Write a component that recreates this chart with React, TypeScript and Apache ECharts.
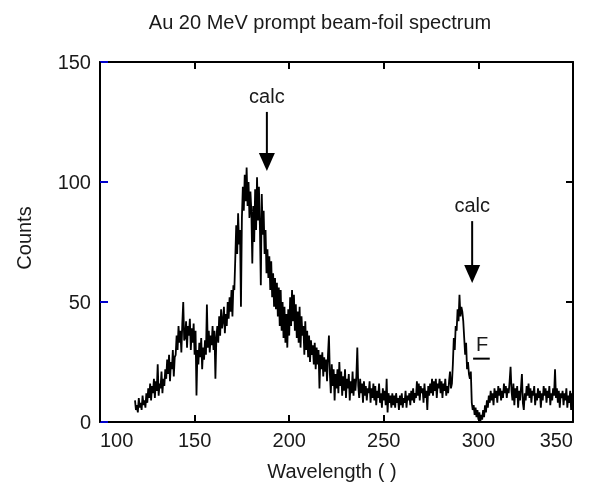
import React, { useEffect, useRef } from "react";
import * as echarts from "echarts";

// Wavelength sampling of the spectrum
const START_WAVELENGTH = 118.5;
const STEP = 0.5;

// Counts, in blocks of wavelength (20 samples per 10 units)
const seg118 = [9, 5, 7, 4, 10, 6, 8, 5, 11, 7, 9, 6, 12];
const seg125 = [8, 14, 10, 16, 9, 15, 12, 18, 10, 17, 13, 24, 11, 16, 14, 21, 12, 18, 15, 22];
const seg135 = [18, 26, 20, 28, 17, 25, 22, 30, 19, 27, 28, 36, 30, 40, 33, 38, 29, 41, 50, 34];
const seg145 = [35, 42, 31, 40, 36, 43, 30, 39, 33, 41, 28, 38, 11, 30, 24, 33, 27, 35, 22, 31];
const seg155 = [26, 34, 28, 49, 31, 38, 29, 36, 32, 40, 30, 38, 18, 35, 40, 33, 44, 36, 47, 39];
const seg165 = [42, 48, 37, 45, 40, 50, 43, 52, 46, 55, 44, 57, 55, 68, 82, 70, 87, 74, 80, 48];
const seg175 = [85, 98, 88, 103, 92, 106, 90, 100, 85, 96, 88, 66, 90, 75, 97, 80, 102, 84, 98, 82];
const seg185 = [57, 95, 78, 88, 70, 80, 62, 72, 60, 69, 55, 67, 52, 62, 48, 60, 47, 58, 44, 56];
const seg195 = [40, 55, 38, 50, 35, 48, 33, 45, 31, 47, 36, 52, 40, 55, 42, 53, 38, 49, 35, 46];
const seg205 = [33, 48, 31, 44, 36, 40, 28, 42, 30, 38, 27, 36, 25, 34, 28, 32, 24, 33, 22, 31];
const seg215 = [24, 30, 14, 28, 22, 29, 19, 27, 21, 26, 17, 28, 36, 20, 12, 24, 15, 22, 9, 20];
const seg225 = [14, 22, 12, 25, 15, 21, 11, 19, 13, 22, 10, 18, 14, 20, 9, 17, 12, 21, 11, 18];
const seg235 = [13, 19, 31, 15, 10, 18, 12, 16, 8, 17, 11, 15, 9, 14, 12, 17, 8, 14, 10, 16];
const seg245 = [9, 15, 7, 13, 10, 16, 8, 12, 6, 14, 9, 13, 7, 18, 4, 12, 8, 11, 6, 12];
const seg255 = [7, 11, 6, 12, 8, 10, 5, 11, 7, 12, 6, 10, 8, 13, 6, 11, 9, 12, 7, 13];
const seg265 = [9, 14, 8, 12, 10, 17, 11, 16, 9, 15, 12, 14, 8, 16, 10, 13, 5, 15, 11, 16];
const seg275 = [12, 18, 11, 17, 13, 18, 10, 16, 14, 18, 12, 17, 10, 16, 13, 18, 11, 15, 12, 17];
const seg285 = [21, 14, 16, 24, 35, 30, 40, 38, 47, 42, 53, 44, 48, 46, 42, 35, 28, 33, 22, 25];
const seg295 = [20, 18, 21, 8, 5, 7, 3, 6, 2, 5, 1, 4, 0, 3, 1, 5, 2, 7, 4, 9];
const seg305 = [6, 11, 8, 13, 9, 12, 7, 14, 10, 13, 8, 15, 11, 14, 9, 13, 10, 16, 12, 15];
const seg315 = [10, 14, 12, 17, 23, 13, 9, 16, 7, 14, 10, 15, 6, 13, 9, 14, 20, 8, 5, 12];
const seg325 = [9, 15, 11, 16, 10, 14, 8, 13, 11, 15, 7, 12, 9, 14, 10, 13, 6, 12, 9, 15];
const seg335 = [11, 14, 8, 13, 10, 15, 7, 12, 9, 14, 11, 22, 10, 14, 8, 13, 6, 12, 10, 13];
const seg345 = [7, 12, 9, 14, 6, 11, 8, 13, 5, 12, 9];

// Axis ticks
const xTicks = { min: 100, max: 350, interval: 50 };
const yTicks = { min: 0, max: 150, interval: 50 };

// Annotations (data coordinates)
const calcArrows = [
  { x: 188.2, label: "calc", textY: 135.9, top: 129.2, tip: 104.6 },
  { x: 296.7, label: "calc", textY: 90.3, top: 83.7, tip: 57.9 },
];
const fMark = { label: "F", x: 302.0, y: 32.4, lineX0: 297.2, lineX1: 306.0, lineY: 26.4 };

const TITLE = "Au 20 MeV prompt beam-foil spectrum";
const X_NAME = "Wavelength ( )";
const Y_NAME = "Counts";

const counts = [
  seg118, seg125, seg135, seg145, seg155, seg165, seg175, seg185, seg195, seg205,
  seg215, seg225, seg235, seg245, seg255, seg265, seg275, seg285, seg295, seg305,
  seg315, seg325, seg335, seg345,
].flat();

const FONT = '"Liberation Sans", Arial, sans-serif';
const TEXT_COLOR = "#1a1a1a";
const FS = 20;

export default function App() {
  const ref = useRef<HTMLDivElement>(null);
  useEffect(() => {
    const chart = echarts.init(ref.current!, null, { renderer: "svg" });
    const data = counts.map((c, i) => [START_WAVELENGTH + i * STEP, c]);
    const axisLine = { show: true, onZero: false, lineStyle: { color: "#000", width: 2 } };
    chart.setOption({
      animation: false,
      grid: { left: 100, right: 18, top: 62, bottom: 72 },
      xAxis: [
        {
          type: "value",
          position: "bottom",
          ...xTicks,
          axisLine,
          axisTick: { show: true, inside: true, length: 7, lineStyle: { color: "#000", width: 2 } },
          axisLabel: {
            fontSize: FS,
            fontFamily: FONT,
            color: TEXT_COLOR,
            margin: 8,
            alignMinLabel: "left",
            alignMaxLabel: "right",
          },
          splitLine: { show: false },
        },
        {
          type: "value",
          position: "top",
          ...xTicks,
          axisLine,
          axisTick: { show: true, inside: true, length: 7, lineStyle: { color: "#000", width: 2 } },
          axisLabel: { show: false },
          splitLine: { show: false },
        },
      ],
      yAxis: [
        {
          type: "value",
          position: "left",
          ...yTicks,
          axisLine,
          axisTick: { show: true, inside: true, length: 8, lineStyle: { color: "#0000cc", width: 2 } },
          axisLabel: { fontSize: FS, fontFamily: FONT, color: TEXT_COLOR, margin: 9 },
          splitLine: { show: false },
        },
        {
          type: "value",
          position: "right",
          ...yTicks,
          axisLine,
          axisTick: { show: true, inside: true, length: 7, lineStyle: { color: "#000", width: 2 } },
          axisLabel: { show: false },
          splitLine: { show: false },
        },
      ],
      series: [
        {
          type: "line",
          data,
          showSymbol: false,
          symbol: "none",
          lineStyle: { color: "#000", width: 1.8 },
          z: 3,
        },
      ],
    });

    const px = (x: number, y: number) => chart.convertToPixel({ gridIndex: 0 }, [x, y]) as number[];
    const txt = (text: string) => ({
      text,
      fontSize: FS,
      fontFamily: FONT,
      fill: TEXT_COLOR,
      align: "center",
      verticalAlign: "middle",
    });
    const graphic: any[] = [
      { type: "text", x: 320, y: 22, style: txt(TITLE) },
      { type: "text", x: 24, y: 238, rotation: Math.PI / 2, style: txt(Y_NAME) },
      { type: "text", x: 332, y: 471, style: txt(X_NAME) },
    ];
    calcArrows.forEach((a) => {
      const t = px(a.x, a.textY);
      const top = px(a.x, a.top);
      const tip = px(a.x, a.tip);
      graphic.push({ type: "text", x: t[0], y: t[1], style: txt(a.label) });
      graphic.push({
        type: "line",
        shape: { x1: top[0], y1: top[1], x2: tip[0], y2: tip[1] - 10 },
        style: { stroke: "#000", lineWidth: 2 },
      });
      graphic.push({
        type: "polygon",
        shape: {
          points: [
            [tip[0], tip[1]],
            [tip[0] - 8, tip[1] - 18],
            [tip[0] + 8, tip[1] - 18],
          ],
        },
        style: { fill: "#000" },
      });
    });
    const f = px(fMark.x, fMark.y);
    const l0 = px(fMark.lineX0, fMark.lineY);
    const l1 = px(fMark.lineX1, fMark.lineY);
    graphic.push({ type: "text", x: f[0], y: f[1], style: txt(fMark.label) });
    graphic.push({
      type: "line",
      shape: { x1: l0[0], y1: l0[1], x2: l1[0], y2: l1[1] },
      style: { stroke: "#000", lineWidth: 2 },
    });
    chart.setOption({ graphic });
    return () => chart.dispose();
  }, []);
  return <div ref={ref} style={{ position: "fixed", left: 0, top: 0, width: 591, height: 494 }} />;
}
